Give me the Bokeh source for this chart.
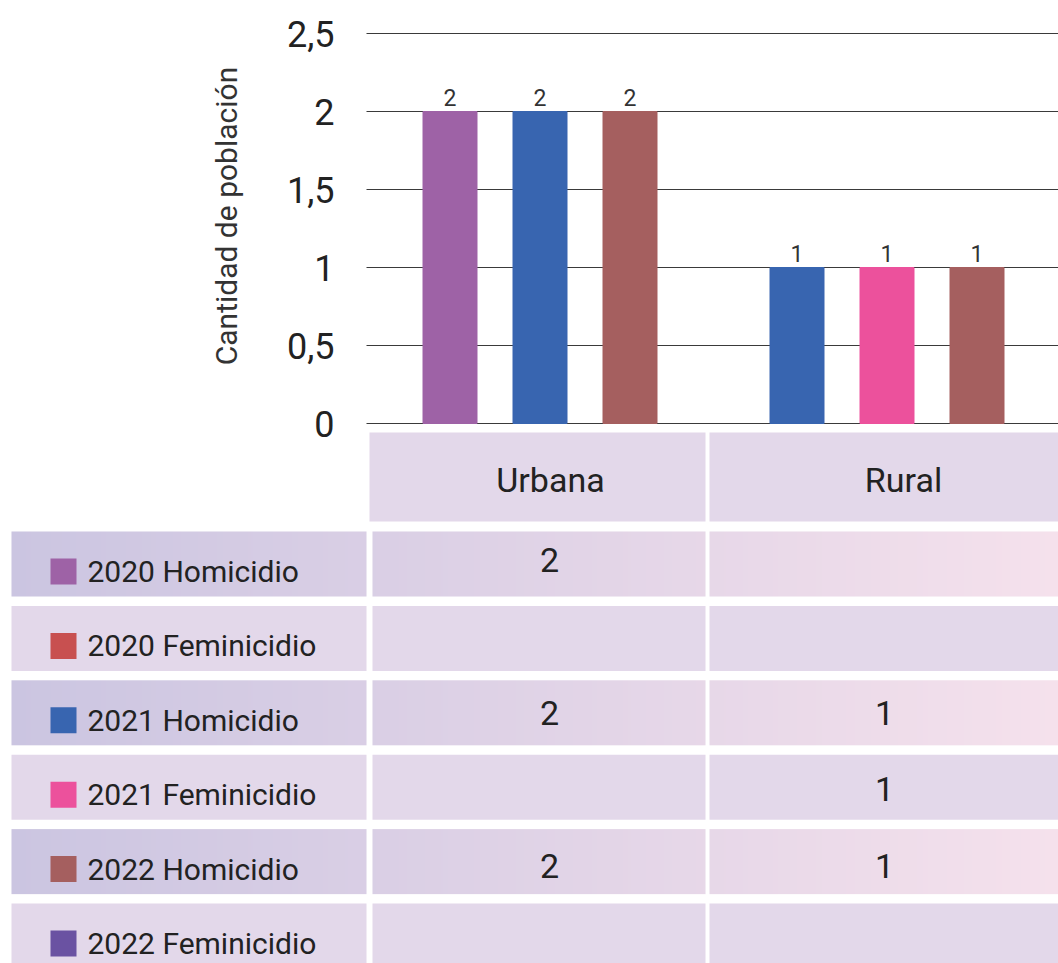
import numpy as np
from bokeh.plotting import figure
from bokeh.models import (Range1d, FixedTicker, CustomJSTickFormatter, ColumnDataSource,
                          LinearAxis, Grid)
from bokeh.core.properties import value
from bokeh.embed import file_html
from bokeh.resources import INLINE

# ---------------- data ----------------
categories = ["Urbana", "Rural"]
series = ["2020 Homicidio", "2020 Feminicidio", "2021 Homicidio",
          "2021 Feminicidio", "2022 Homicidio", "2022 Feminicidio"]
series_colors = ["#9e62a6", "#c85050", "#3865b0", "#ec519c", "#a55f5f", "#6a52a2"]
urbana_values = [2, None, 2, None, 2, None]
rural_values = [None, None, 1, 1, 1, None]
y_ticks = [0, 0.5, 1, 1.5, 2, 2.5]
y_axis_title = "Cantidad de población"

FONT = "Roboto"
W, H = 1058, 963

values_by_cat = [urbana_values, rural_values]

# ---------------- layout (pixels) ----------------
FRAME_X0 = 366          # left edge of the chart area
PX_PER_CAT = 347        # width of one category
BASE_Y = 423            # pixel row of value 0
PX_PER_UNIT = 156       # pixels per unit of value
STEP = 90 / PX_PER_CAT
BAR_W = 54 / PX_PER_CAT

x_range = Range1d(-FRAME_X0 / PX_PER_CAT, (W - FRAME_X0) / PX_PER_CAT)
y_range = Range1d(-(H - BASE_Y) / PX_PER_UNIT, BASE_Y / PX_PER_UNIT)

p = figure(width=W, height=H, x_range=x_range, y_range=y_range,
           output_backend="svg", toolbar_location=None,
           x_axis_location=None, y_axis_location=None, min_border=0)
p.outline_line_color = None
p.background_fill_color = "white"
p.border_fill_color = "white"
p.xgrid.visible = False
p.ygrid.visible = False

# pixel-space ranges for the table part
p.extra_x_ranges = {"px": Range1d(0, W)}
p.extra_y_ranges = {"py": Range1d(0, H)}

# y axis at the chart's left edge
ax = LinearAxis(fixed_location=0.0, bounds=(0, 2.66))
ax.ticker = FixedTicker(ticks=y_ticks)
ax.formatter = CustomJSTickFormatter(code="return tick.toString().replace('.', ',')")
ax.major_label_text_font_size = "36px"
ax.major_label_text_font = FONT
ax.major_label_text_color = "#222222"
ax.major_tick_line_color = None
ax.minor_tick_line_color = None
ax.major_tick_out = 0
ax.major_tick_in = 0
ax.minor_tick_out = 0
ax.minor_tick_in = 0
ax.axis_line_color = None
ax.major_label_standoff = 32
ax.axis_label = y_axis_title
ax.axis_label_text_font = FONT
ax.axis_label_text_font_size = "30px"
ax.axis_label_text_font_style = "normal"
ax.axis_label_text_color = "#333333"
ax.axis_label_standoff = 40
p.add_layout(ax, "left")

# horizontal grid lines only over the chart area
g = Grid(dimension=1, ticker=FixedTicker(ticks=y_ticks), grid_line_color="#3a3a3a",
         grid_line_width=1)
grid_ok = True
try:
    g.cross_bounds = (0.0, x_range.end)
except Exception:
    grid_ok = False
if grid_ok:
    p.add_layout(g, "center")
else:
    p.segment(x0=[0.0] * len(y_ticks), x1=[x_range.end] * len(y_ticks),
              y0=y_ticks, y1=y_ticks, line_color="#3a3a3a", line_width=1)

# bars
bx, btop, bcol, blab = [], [], [], []
for ci, vals in enumerate(values_by_cat):
    present = [i for i, v in enumerate(vals) if v]
    n = len(present)
    for k, i in enumerate(present):
        bx.append(ci + 0.5 + (k - (n - 1) / 2) * STEP)
        btop.append(vals[i])
        bcol.append(series_colors[i])
        blab.append(str(vals[i]))
bars = ColumnDataSource(dict(x=bx, top=btop, color=bcol, label=blab))
p.vbar(x="x", top="top", bottom=0, width=BAR_W, color="color", source=bars)
p.text(x="x", y="top", text="label", source=bars, text_align="center",
       text_baseline="bottom", y_offset=-6, text_font_size="23px",
       text_color="#333333", text_font=value(FONT))

# ---------------- table ----------------
FLAT = "#e3d8ea"
G0 = np.array([203, 197, 225], dtype=float)
G1 = np.array([245, 225, 236], dtype=float)
GX0, GX1 = 11.0, 1058.0


def grad_image(x0, x1, n=128):
    xs = np.linspace(x0, x1, n)
    f = ((xs - GX0) / (GX1 - GX0))[:, None]
    rgb = G0 + (G1 - G0) * f
    img = np.empty((1, n), dtype=np.uint32)
    view = img.view(dtype=np.uint8).reshape((1, n, 4))
    view[0, :, 0:3] = np.round(rgb).astype(np.uint8)
    view[0, :, 3] = 255
    return img


def ty(y):
    return H - y


TK = dict(x_range_name="px", y_range_name="py")

label_col = (11, 366)
value_cols = [(372, 705), (709, 1058)]
header_cols = [(369, 705), (709, 1058)]
header_text_x = [550, 903]
value_text_x = [549, 884]
HEADER_TOP, HEADER_BOTTOM = 432, 521
ROW0 = 531
ROW_STEP = 74.4
ROW_H = 65
VAL_Y0 = 559
VAL_STEP = 76.5

p.quad(left=[c[0] for c in header_cols], right=[c[1] for c in header_cols],
       top=[ty(HEADER_TOP)] * 2, bottom=[ty(HEADER_BOTTOM)] * 2,
       fill_color=FLAT, line_color=None, **TK)
p.text(x=header_text_x, y=[ty(479)] * 2, text=categories, text_align="center",
       text_baseline="middle", text_font_size="34px", text_color="#222222",
       text_font=value(FONT), **TK)

lab_x, lab_y, sq_l, sq_r, sq_t, sq_b = [], [], [], [], [], []
vx, vy, vt = [], [], []
for i, name in enumerate(series):
    top = ROW0 + ROW_STEP * i
    cells = [label_col] + value_cols
    if i % 2 == 0:
        for (c0, c1) in cells:
            p.image_rgba(image=[grad_image(c0, c1)], x=c0, y=ty(top + ROW_H),
                         dw=c1 - c0, dh=ROW_H, **TK)
    else:
        p.quad(left=[c[0] for c in cells], right=[c[1] for c in cells],
               top=[ty(top)] * 3, bottom=[ty(top + ROW_H)] * 3,
               fill_color=FLAT, line_color=None, **TK)
    lab_x.append(87)
    lab_y.append(ty(top + 40))
    sq_l.append(50)
    sq_r.append(76)
    sq_t.append(ty(top + 27))
    sq_b.append(ty(top + 53))
    for ci, vals in enumerate(values_by_cat):
        if vals[i]:
            vx.append(value_text_x[ci])
            vy.append(ty(VAL_Y0 + VAL_STEP * i))
            vt.append(str(vals[i]))

p.quad(left=sq_l, right=sq_r, top=sq_t, bottom=sq_b, fill_color=series_colors,
       line_color=None, **TK)
p.text(x=lab_x, y=lab_y, text=series, text_align="left", text_baseline="middle",
       text_font_size="30px", text_color="#222222", text_font=value(FONT), **TK)
p.text(x=vx, y=vy, text=vt, text_align="center", text_baseline="middle",
       text_font_size="34px", text_color="#222222", text_font=value(FONT), **TK)

open("out.html", "w").write(file_html(p, INLINE))
